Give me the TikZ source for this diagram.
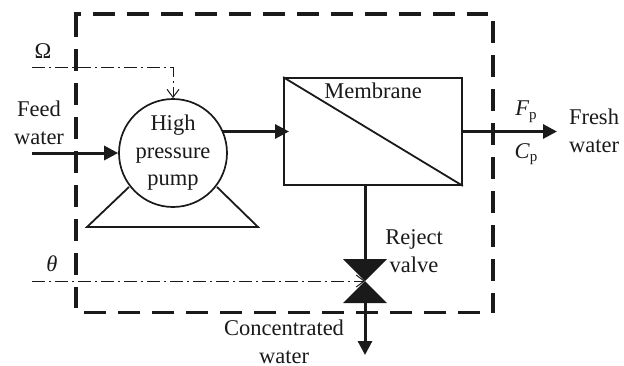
\documentclass[tikz,border=0pt]{standalone}
\usepackage{fontspec}
\setmainfont{Liberation Serif}
\usetikzlibrary{arrows.meta}
\definecolor{ink}{HTML}{1A1A1A}
\tikzset{
  lbl/.style={font=\fontsize{22.5}{27.5}\selectfont, text=ink, inner sep=0pt, align=center},
  flow/.style={line width=3pt, draw=ink, -{Triangle[length=14pt,width=14pt]}},
  plain/.style={line width=1.8pt, draw=ink},
  boundary/.style={line width=3.4pt, draw=ink, dash pattern=on 22pt off 12pt},
  signal/.style={line width=1pt, draw=ink, dash pattern=on 13pt off 4pt on 2pt off 4pt, -{Straight Barb[length=8pt,width=12pt,line width=1pt]}},
}
\newcommand{\sbs}[1]{\raisebox{-0.35ex}{\fontsize{15}{15}\selectfont #1}}
\begin{document}
\begin{tikzpicture}[x=1pt,y=-1pt]
\useasboundingbox (0,0) rectangle (624,365);
% boundary
\draw[boundary] (93,14) -- (488,14);
\draw[line width=3.4pt,draw=ink] (81,14) -- (76,14) -- (76,37);
\draw[boundary] (76,49) -- (76,308);
\draw[boundary] (493,21) -- (493,313);
\draw[boundary] (84,312.5) -- (481,312.5);
% units
\node[circle,draw=ink,line width=1.7pt,minimum size=108pt,inner sep=0pt,lbl] (pump) at (173,153) {High\\pressure\\pump};
\node[draw=ink,line width=1.8pt,minimum width=178pt,minimum height=107pt,inner sep=0pt] (mem) at (373,131.5) {};
\draw[plain] (mem.north west) -- (mem.south east);
\coordinate (bl) at (87,227);
\coordinate (br) at (258,227);
\coordinate (tl) at (129,187);
\coordinate (tr) at (217,187);
\draw[plain,line join=miter] (tl) -- (bl) -- (br) -- (tr);
% valve
\coordinate (vc) at (365,281);
\coordinate (vt) at (365,259);
\coordinate (vb) at (365,303);
\fill[ink] (343,259) -- (387,259) -- (vc) -- cycle;
\fill[ink] (343,303) -- (387,303) -- (vc) -- cycle;
% flows
\coordinate (feedin) at (32,153);
\coordinate (pumpout) at (222,131.5);
\coordinate (memin) at (289,131.5);
\coordinate (memout) at (462,131.5);
\coordinate (fresh) at (557,131.5);
\coordinate (memb) at (365,185);
\coordinate (conc) at (365,355);
\draw[flow] (feedin) -- (pump.west);
\draw[flow] (pumpout) -- (memin);
\draw[flow] (memout) -- (fresh);
\draw[line width=3pt,draw=ink] (memb) -- (vt);
\draw[flow] (vb) -- (conc);
% signals
\coordinate (om) at (32,67);
\coordinate (th) at (32,281);
\draw[signal] (om) -| (pump.north);
\draw[signal] (th) -- (vc);
% labels
\node[lbl] (omega) at (43,51) {Ω};
\node[lbl] (theta) at (52,264) {\textit{θ}};
\node[lbl] (feed) at (39,123) {Feed\\water};
\node[lbl] (membrane) at (373,91) {Membrane};
\node[lbl] (fp) at (526,112) {\textit{F}\sbs{p}};
\node[lbl] (cp) at (526,154) {\textit{C}\sbs{p}};
\node[lbl] (freshl) at (594,131) {Fresh\\water};
\node[lbl] (reject) at (414,251) {Reject\\valve};
\node[lbl] (concl) at (284,342) {Concentrated\\water};
\end{tikzpicture}
\end{document}
